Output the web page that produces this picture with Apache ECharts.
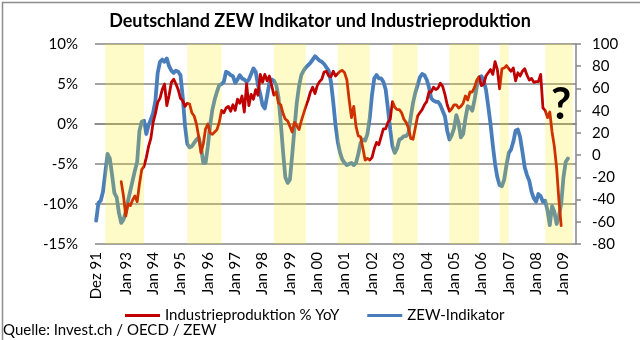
<!DOCTYPE html>
<html>
<head>
<meta charset="utf-8">
<script src="https://cdn.jsdelivr.net/npm/echarts@6/dist/echarts.min.js"></script>
<style>
  html, body { margin: 0; padding: 0; background: #fff; }
  #chart { width: 640px; height: 340px; }
</style>
</head>
<body>
<div id="chart"></div>
<script>
// Monate Dez 91 .. Jun 09 (Kategorieachse)
const monthNames = ['Jan', 'Feb', 'Mär', 'Apr', 'Mai', 'Jun', 'Jul', 'Aug', 'Sep', 'Okt', 'Nov', 'Dez']
const months = ['Dez 91']
for (let y = 1992; y <= 2009; y++) {
  for (let m = 0; m < 12; m++) {
    if (y === 2009 && m > 5) break
    months.push(monthNames[m] + ' ' + String(y % 100).padStart(2, '0'))
  }
}

// ZEW-Indikator (rechte Achse), ab Dez 91
const zewStart = 'Dez 91'
const zew = [
  -59,
  -43, -41, -33, -16, 1, -3, -18, -34, -38, -52, -61, -58,
  -51, -41, -32, -23, -14, -6, 22, 30, 31, 19, 27, 32,
  38, 49, 74, 84, 86, 84, 87, 80, 76, 74, 76, 75,
  72, 52, 26, 10, 7, 8, 11, 14, 16, 7, -7, -7,
  8, 27, 41, 50, 57, 63, 64, 66, 75, 74, 72, 71,
  65, 68, 72, 69, 68, 66, 68, 73, 78, 75, 63, 55,
  45, 42, 53, 65, 68, 67, 63, 52, 29, 3, -20, -25,
  -22, 0, 24, 47, 62, 72, 76, 79, 81, 83, 86, 89,
  87, 85, 84, 82, 79, 76, 66, 48, 27, 12, 2, -4,
  -7, -9, -8, -7, -9, -7, 1, 11, 14, 13, 19, 33,
  54, 69, 72, 69, 69, 66, 59, 42, 23, 8, 2, 6,
  14, 15, 17, 17, 20, 34, 47, 56, 63, 70, 73, 72,
  68, 61, 51, 49, 48, 48, 45, 40, 35, 22, 14, 18,
  24, 36, 29, 16, 19, 33, 44, 43, 40, 50, 62, 70,
  71, 67, 59, 44, 28, 9, -8, -20, -27, -28, -22, -9,
  2, 5, 12, 22, 23, 16, 3, -11, -18, -23, -33, -39,
  -42, -35, -37, -42, -41, -50, -63, -46, -51, -62, -55, -44,
  -20, -6, -3
]

// Industrieproduktion % YoY (linke Achse), ab Nov 92
const ipStart = 'Nov 92'
const ipYoY = [
  -7.2, -9,
  -11.5, -10, -10.2, -9.5, -9, -9.7, -7.5, -5.7, -5.3, -4.2, -2.8, -1.8,
  0.2, 1.3, 2.7, 3.2, 4.3, 5, 2.3, 3.6, 5.2, 5.6, 5, 4.3,
  3.2, 2.9, 2.2, 2.6, 2.5, 1.4, 1, 0, -1.6, -3.6, -2.5, -0.6,
  0, -1.1, -1.3, -1, -0.7, 0.2, 1.7, 1.4, 2, 2.2, 1.6, 2.4,
  1.7, 3.1, 2.6, 3.5, 1.5, 5, 2.3, 3.7, 3.1, 4.3, 3.6, 6.2,
  5.2, 6.2, 5.4, 6, 4.8, 3.6, 4, 2.6, 2.4, 1.3, 0.6, 0.4,
  -0.3, -1, 0.2, -0.2, -0.7, 0.4, 1.3, 2.2, 3, 4, 4.6, 3.8,
  4.8, 5.3, 5.6, 6.5, 6.6, 6, 5.9, 6.6, 6, 6.3, 6.6, 6.7,
  6.4, 5.5, 3, 0.8, 2.2, -0.3, -1.5, -1.6, -3, -4.5, -4.3, -4.5,
  -4.2, -3.1, -2.3, -2.6, -1.6, -0.6, -0.6, 0.2, 0.6, 2.8, 2.1, 1.8,
  1.8, 1.4, 0.6, 0.2, -0.5, -1.8, -1.9, -0.5, 1, 1.4, 1.8, 2.4,
  2.8, 4, 4, 4.6, 4.3, 4.5, 5.1, 4.7, 3.7, 2.4, 1.6, 1.9,
  2.4, 2.4, 2, 2.2, 2.6, 3.5, 3, 4, 4, 4.6, 5.5, 5.9,
  4.8, 5, 6, 6.4, 6.8, 6.2, 7.8, 6.8, 4.4, 6.9, 7, 7.3,
  6.9, 6.6, 7, 5.4, 6.4, 6, 6.6, 6.9, 6.1, 5.5, 5.7, 5.2,
  5.3, 5.3, 6.2, 2, 1.7, 0.8, 1.5, -1, -2.8, -5.5, -9.5, -12.7
]

// gelb hinterlegte Phasen
const bands = [
  ['Apr 92', 'Sep 93'],
  ['Apr 95', 'Jul 96'],
  ['Jun 98', 'Aug 99'],
  ['Okt 00', 'Dez 01'],
  ['Okt 02', 'Sep 03'],
  ['Nov 04', 'Dez 05'],
  ['Sep 06', 'Jan 07'],
  ['Mai 08', 'Mai 09']
]

const pad = (start, arr) => Array(months.indexOf(start)).fill('-').concat(arr)

const font = 'Lato, "Open Sans", sans-serif'
const chart = echarts.init(document.getElementById('chart'))
chart.setOption({
  animation: false,
  title: {
    text: 'Deutschland ZEW Indikator und Industrieproduktion',
    left: 'center',
    top: 7,
    textStyle: { fontSize: 18, fontWeight: 'bold', color: '#000', fontFamily: font }
  },
  grid: { left: 95, right: 64, top: 44, bottom: 96 },
  legend: {
    left: 120,
    top: 303,
    icon: 'rect',
    itemWidth: 35,
    itemHeight: 3,
    itemGap: 28,
    textStyle: { fontSize: 15, color: '#000', fontFamily: font },
    data: ['Industrieproduktion % YoY', 'ZEW-Indikator']
  },
  xAxis: {
    type: 'category',
    data: months,
    boundaryGap: true,
    axisLine: { lineStyle: { color: '#868686', width: 1.5 } },
    axisTick: { show: false },
    axisLabel: {
      rotate: 90,
      margin: 8,
      fontSize: 15,
      color: '#000',
      fontFamily: font,
      interval: (idx, val) => idx === 0 || (idx > 12 && val.startsWith('Jan'))
    }
  },
  yAxis: [
    {
      type: 'value',
      min: -15,
      max: 10,
      interval: 5,
      axisLine: { show: false },
      axisTick: { show: false },
      axisLabel: { formatter: '{value}%', fontSize: 15, color: '#000', margin: 17, fontFamily: font },
      splitLine: { lineStyle: { color: '#868686', width: 1.5 } }
    },
    {
      type: 'value',
      position: 'right',
      min: -80,
      max: 100,
      interval: 20,
      axisLine: { show: true, lineStyle: { color: '#868686', width: 1.5 } },
      axisTick: { show: true, length: 5, lineStyle: { color: '#868686', width: 1.5 } },
      axisLabel: { fontSize: 15, color: '#000', margin: 16, fontFamily: font },
      splitLine: { show: false }
    }
  ],
  series: [
    {
      name: 'Industrieproduktion % YoY',
      type: 'line',
      yAxisIndex: 0,
      data: pad(ipStart, ipYoY),
      showSymbol: false,
      color: '#C00000',
      lineStyle: { width: 2.8, color: '#C00000', cap: 'round', join: 'round' },
      z: 3
    },
    {
      name: 'ZEW-Indikator',
      type: 'line',
      yAxisIndex: 1,
      data: pad(zewStart, zew),
      showSymbol: false,
      color: '#4A7EBB',
      lineStyle: { width: 3.8, color: '#4A7EBB', cap: 'round', join: 'round' },
      z: 2,
      markArea: {
        silent: true,
        z: 10,
        itemStyle: { color: 'rgba(255, 236, 0, 0.21)' },
        data: bands.map(b => [{ xAxis: b[0] }, { xAxis: b[1] }])
      }
    }
  ],
  graphic: [
    {
      type: 'rect',
      left: 0,
      top: 0,
      shape: { width: 639, height: 339 },
      style: { fill: 'none', stroke: '#8c8c8c', lineWidth: 1.5 },
      silent: true
    },
    {
      type: 'text',
      left: 551,
      top: 83,
      z: 100,
      style: { text: '?', font: 'bold 44px ' + font, fill: '#000' }
    },
    {
      type: 'text',
      left: 3,
      top: 323,
      style: { text: 'Quelle: Invest.ch / OECD / ZEW', font: '15px ' + font, fill: '#000' }
    }
  ]
})
</script>
</body>
</html>
